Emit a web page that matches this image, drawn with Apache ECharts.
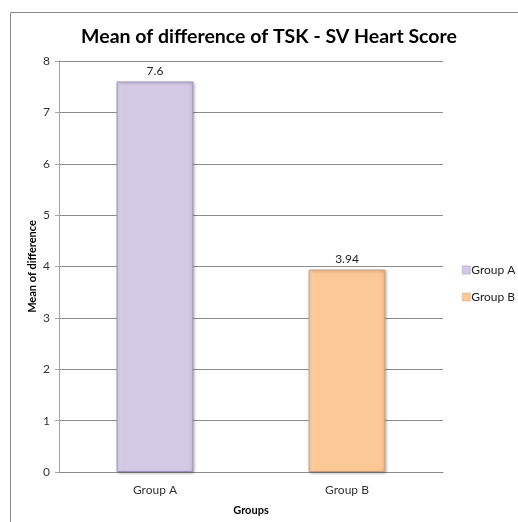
<!DOCTYPE html>
<html>
<head>
<meta charset="utf-8">
<script src="https://cdn.jsdelivr.net/npm/echarts@6/dist/echarts.min.js"></script>
<style>
html, body { margin: 0; padding: 0; background: #fff; }
#Main { width: 518px; height: 522px; }
</style>
</head>
<body>
<div id="Main"></div>
<script>
// 数据
var categories = ['Group A', 'Group B'];
var seriesNames = ['Group A', 'Group B'];
var meanDiff = [7.6, 3.94];
var yTicks = [0, 1, 2, 3, 4, 5, 6, 7, 8];

var fills = [
	['#e2dbef', '#d4cae6', '#c9bedd'],
	['#ffdcb8', '#fdc897', '#f3ba86']
];
var borders = ['#9d8fbb', '#c9a07c'];

function barColor(c) {
	return new echarts.graphic.LinearGradient(0, 0, 1, 0, [
		{ offset: 0, color: c[0] },
		{ offset: 0.08, color: c[1] },
		{ offset: 0.92, color: c[1] },
		{ offset: 1, color: c[2] }
	]);
}

var series = [];
for (var i = 0; i < seriesNames.length; i++) {
	var d = [];
	for (var j = 0; j < categories.length; j++) {
		d.push(j == i ? meanDiff[i] : '-');
	}
	series.push({
		name: seriesNames[i],
		type: 'bar',
		barWidth: '40%',
		barGap: '-100%',
		data: d,
		itemStyle: {
			color: barColor(fills[i]),
			borderColor: borders[i],
			borderWidth: 1,
			shadowColor: 'rgba(0,0,0,0.25)',
			shadowBlur: 3,
			shadowOffsetX: 1,
			shadowOffsetY: 1
		},
		label: {
			show: true,
			position: 'top',
			distance: 4,
			color: '#222',
			fontFamily: 'Lato',
			fontSize: 12
		}
	});
}

var myChart = echarts.init(document.getElementById('Main'));
myChart.setOption({
	animation: false,
	title: {
		text: 'Mean of difference of TSK - SV Heart Score',
		left: 264,
		textAlign: 'center',
		top: 22,
		textStyle: { fontFamily: 'Lato', fontWeight: 'bold', fontSize: 19.5, color: '#000' }
	},
	legend: {
		orient: 'vertical',
		left: 462,
		top: 264,
		padding: 0,
		itemWidth: 8,
		itemHeight: 8,
		itemGap: 15,
		icon: 'rect',
		itemStyle: { borderWidth: 0.5, shadowBlur: 0, shadowOffsetX: 0, shadowOffsetY: 0 },
		textStyle: { fontFamily: 'Lato', fontSize: 12, color: '#222', padding: [0, 0, 0, -4] },
		data: seriesNames
	},
	grid: { left: 59, right: 75, top: 61, bottom: 50, containLabel: false },
	xAxis: {
		type: 'category',
		data: categories,
		name: 'Groups',
		nameLocation: 'middle',
		nameGap: 33,
		nameTextStyle: { fontFamily: 'Lato', fontWeight: 'bold', fontSize: 11, color: '#000' },
		axisLine: { lineStyle: { color: '#8c8c8c' } },
		axisTick: { show: false },
		axisLabel: { fontFamily: 'Lato', fontSize: 12, color: '#333', margin: 12 }
	},
	yAxis: {
		type: 'value',
		min: yTicks[0],
		max: yTicks[yTicks.length - 1],
		interval: 1,
		name: 'Mean of difference',
		nameLocation: 'middle',
		nameGap: 21,
		nameMoveOverlap: false,
		nameTextStyle: { fontFamily: 'Lato', fontWeight: 'bold', fontSize: 11, color: '#000' },
		axisLine: { show: true, lineStyle: { color: '#a6a6a6' } },
		axisTick: { show: true, length: 4, lineStyle: { color: '#a6a6a6' } },
		axisLabel: { fontFamily: 'Lato', fontSize: 12, color: '#333', margin: 9 },
		splitLine: { lineStyle: { color: '#8c8c8c' } }
	},
	graphic: [{
		type: 'rect',
		shape: { x: 10.5, y: 12.5, width: 520, height: 520 },
		style: { fill: 'none', stroke: '#8a8a8a', lineWidth: 1 },
		silent: true
	}],
	series: series
});
</script>
</body>
</html>
